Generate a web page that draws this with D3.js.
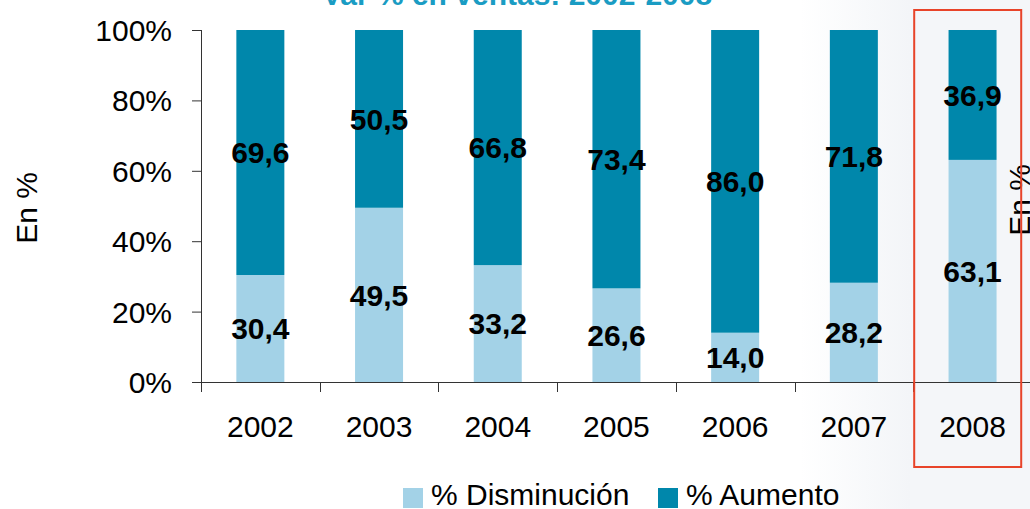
<!DOCTYPE html>
<html>
<head>
<meta charset="utf-8">
<script src="https://cdn.jsdelivr.net/npm/d3@7"></script>
<style>
  html, body { margin: 0; padding: 0; background: #ffffff; }
  svg { display: block; }
  text { font-family: "Liberation Sans", Arial, sans-serif; }
</style>
</head>
<body>
<svg id="chart" width="1030" height="509"></svg>
<script>
// ---- data ----
const years = ["2002", "2003", "2004", "2005", "2006", "2007", "2008"];
const disminucion = [30.4, 49.5, 33.2, 26.6, 14.0, 28.2, 63.1];
const aumento = [69.6, 50.5, 66.8, 73.4, 86.0, 71.8, 36.9];
const yTicks = [0, 0.2, 0.4, 0.6, 0.8, 1.0];
const seriesNames = ["% Disminución", "% Aumento"];
const titleText = "Var % en ventas: 2002-2008";
const axisTitle = "En %";
const highlightYear = "2008";

// ---- styles ----
const colors = ["#a3d2e7", "#0087ab"];
const svg = d3.select("#chart");
const W = 1030, H = 509;

// faint background to the right
const defs = svg.append("defs");
const grad = defs.append("linearGradient").attr("id", "bg").attr("x1", "0").attr("x2", "1").attr("y1", "0").attr("y2", "0");
grad.append("stop").attr("offset", "0").attr("stop-color", "#ffffff");
grad.append("stop").attr("offset", "1").attr("stop-color", "#f3f5f8");
svg.append("rect").attr("x", 800).attr("y", 0).attr("width", 110).attr("height", H).attr("fill", "url(#bg)");
svg.append("rect").attr("x", 910).attr("y", 0).attr("width", 120).attr("height", H).attr("fill", "#f4f6f9");

const x0 = 201, bandW = 118.7;
const x = d3.scaleBand().domain(years).range([x0, x0 + bandW * years.length]).paddingInner(0).paddingOuter(0);
const y = d3.scaleLinear().domain([0, 1]).range([382, 30]);
const barW = 48;

const rows = years.map((yr, i) => ({ year: yr, dis: disminucion[i] / 100, aum: aumento[i] / 100 }));
const stack = d3.stack().keys(["dis", "aum"]);
const stacked = stack(rows);

const fmt = d3.formatLocale({ decimal: ",", thousands: ".", grouping: [3], currency: ["", ""] }).format(".1f");

// bars
stacked.forEach((layer, li) => {
  svg.append("g").selectAll("rect").data(layer).join("rect")
    .attr("x", d => x(d.data.year) + (x.bandwidth() - barW) / 2)
    .attr("width", barW)
    .attr("y", d => y(d[1]))
    .attr("height", d => y(d[0]) - y(d[1]))
    .attr("fill", colors[li]);
});

// value labels
stacked.forEach((layer, li) => {
  svg.append("g").selectAll("text").data(layer).join("text")
    .attr("x", d => x(d.data.year) + x.bandwidth() / 2)
    .attr("y", d => (y(d[0]) + y(d[1])) / 2)
    .attr("dy", "0.36em")
    .attr("text-anchor", "middle")
    .attr("font-size", 30)
    .attr("font-weight", "bold")
    .attr("fill", "#000")
    .text(d => fmt((d[1] - d[0]) * 100));
});

// y axis
const yAxis = d3.axisLeft(y).tickValues(yTicks).tickFormat(d3.format(".0%"))
  .tickSizeInner(9).tickSizeOuter(0).tickPadding(20);
const gy = svg.append("g").attr("transform", `translate(${x0},0)`).call(yAxis);
gy.select(".domain").remove();
gy.selectAll(".tick line").attr("stroke", "#333");
gy.selectAll(".tick text").attr("font-size", 30).attr("fill", "#000")
  .attr("font-family", "'Liberation Sans', Arial, sans-serif").attr("dy", "0.35em");
svg.append("line").attr("x1", x0 + 0.5).attr("x2", x0 + 0.5).attr("y1", y(1)).attr("y2", 392).attr("stroke", "#333");

// x axis (ticks at band boundaries)
svg.append("line").attr("x1", 192).attr("x2", W).attr("y1", y(0) + 0.5).attr("y2", y(0) + 0.5).attr("stroke", "#333");
svg.append("g").selectAll("line").data(years).join("line")
  .attr("x1", d => Math.round(x(d)) + 0.5).attr("x2", d => Math.round(x(d)) + 0.5)
  .attr("y1", y(0)).attr("y2", 392).attr("stroke", "#333");
svg.append("g").selectAll("text").data(years).join("text")
  .attr("x", d => x(d) + x.bandwidth() / 2)
  .attr("y", 437)
  .attr("text-anchor", "middle")
  .attr("font-size", 30)
  .attr("fill", "#000")
  .text(d => d);

// axis titles
svg.append("text").attr("transform", "translate(37,208) rotate(-90)")
  .attr("text-anchor", "middle").attr("font-size", 30).attr("fill", "#000").text(axisTitle);
svg.append("text").attr("transform", "translate(1030,200) rotate(-90)")
  .attr("text-anchor", "middle").attr("font-size", 30).attr("fill", "#000").text(axisTitle);

// title (cut off at top)
svg.append("text").attr("x", 517).attr("y", 5).attr("text-anchor", "middle")
  .attr("font-size", 30).attr("font-weight", "bold").attr("fill", "#1a9cc3").text(titleText);

// highlight box
svg.append("rect").attr("x", x(highlightYear) + 1).attr("y", 10)
  .attr("width", 107).attr("height", 457)
  .attr("fill", "none").attr("stroke", "#e8442a").attr("stroke-width", 2);

// legend
const legendX = [403, 658];
const lg = svg.append("g");
seriesNames.forEach((name, i) => {
  lg.append("rect").attr("x", legendX[i]).attr("y", 488).attr("width", 20).attr("height", 20).attr("fill", colors[i]);
  lg.append("text").attr("x", legendX[i] + 28).attr("y", 505).attr("font-size", 30).attr("fill", "#000").text(name);
});
</script>
</body>
</html>
